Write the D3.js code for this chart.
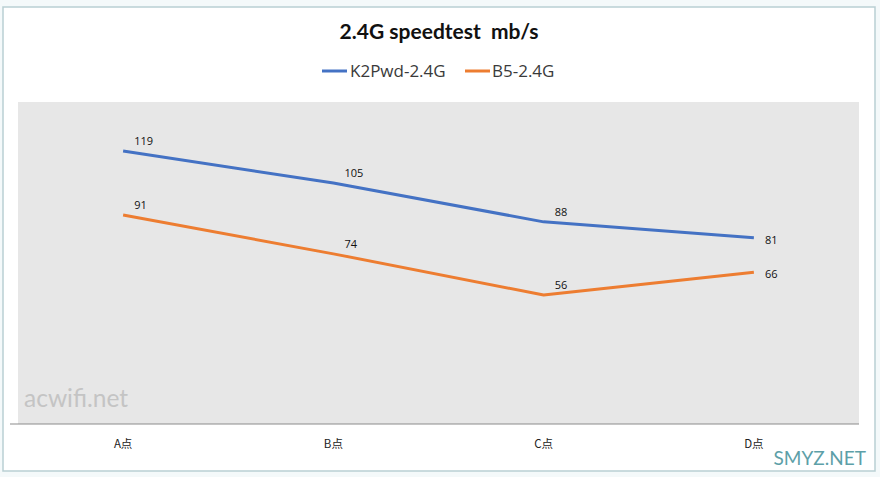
<!DOCTYPE html>
<html><head><meta charset="utf-8">
<script src="https://cdn.jsdelivr.net/npm/d3@7"></script>
<style>html,body{margin:0;padding:0;background:#fff;}svg{display:block;}text{white-space:pre;}</style>
</head><body>
<svg id="chart" width="880" height="477"></svg>
<script>
const categories = ["A点", "B点", "C点", "D点"];
const seriesNames = ["K2Pwd-2.4G", "B5-2.4G"];
const k2pwdValues = [119, 105, 88, 81];
const b5Values = [91, 74, 56, 66];
const seriesColors = ["#4472c4", "#ed7d31"];
const titleText = "2.4G speedtest  mb/s";

const series = [
  {name: seriesNames[0], values: k2pwdValues, color: seriesColors[0]},
  {name: seriesNames[1], values: b5Values, color: seriesColors[1]}
];

const svg = d3.select("#chart");
const W = 880, H = 477;

svg.append("rect").attr("width", W).attr("height", H).attr("fill", "#f4f9fa");
svg.append("rect").attr("x", 3).attr("y", 7).attr("width", 872).attr("height", 464)
  .attr("fill", "#ffffff").attr("stroke", "#b9cfd3").attr("stroke-width", 1.5);

const plot = {left: 18, right: 859, top: 102, bottom: 424};

svg.append("rect").attr("x", plot.left).attr("y", plot.top)
  .attr("width", plot.right - plot.left).attr("height", plot.bottom - plot.top)
  .attr("fill", "#e7e7e7");

const x = d3.scaleBand().domain(categories).range([plot.left, plot.right]);
const y = d3.scaleLinear().domain([0, 140]).range([423, 103]);

svg.append("text").attr("x", 24).attr("y", 407).text("acwifi.net")
  .attr("font-family", "Lato, 'Open Sans', sans-serif").attr("font-size", 24.5)
  .attr("fill", "#c4c4c4");

const xAxis = d3.axisBottom(x).tickSize(0).tickPadding(16);
const gx = svg.append("g").attr("transform", `translate(0,${plot.bottom})`).call(xAxis);
gx.select(".domain").attr("stroke", "#8c8c8c").attr("stroke-width", 1.2)
  .attr("d", `M10,0H${plot.right}`);
gx.selectAll(".tick text").attr("font-family", "'Noto Sans CJK SC', 'Open Sans', sans-serif")
  .attr("font-size", 11.5).attr("fill", "#222");

const line = d3.line().x((d, i) => x(categories[i]) + x.bandwidth() / 2).y(d => y(d));

series.forEach(s => {
  svg.append("path").datum(s.values).attr("d", line)
    .attr("fill", "none").attr("stroke", s.color).attr("stroke-width", 3)
    .attr("stroke-linejoin", "round").attr("stroke-linecap", "butt");
});

series.forEach(s => {
  svg.append("g").selectAll("text").data(s.values).join("text")
    .attr("x", (d, i) => x(categories[i]) + x.bandwidth() / 2 + 11)
    .attr("y", (d, i) => y(d) + (i === s.values.length - 1 ? 6 : -6))
    .text(d => d)
    .attr("font-family", "'Open Sans', 'DejaVu Sans', sans-serif")
    .attr("font-size", 11).attr("fill", "#111");
});

svg.append("text").attr("x", 439).attr("y", 39).attr("text-anchor", "middle")
  .text(titleText).attr("font-family", "Lato, 'Open Sans', sans-serif")
  .attr("font-weight", "bold").attr("font-size", 21).attr("fill", "#111");

const legendItems = [
  {x1: 322, x2: 347, tx: 350},
  {x1: 465, x2: 490, tx: 492}
];
series.forEach((s, i) => {
  const L = legendItems[i];
  svg.append("line").attr("x1", L.x1).attr("x2", L.x2).attr("y1", 71).attr("y2", 71)
    .attr("stroke", s.color).attr("stroke-width", 3);
  svg.append("text").attr("x", L.tx).attr("y", 77).text(s.name)
    .attr("font-family", "'Open Sans', sans-serif").attr("font-size", 17).attr("fill", "#3a3a3a");
});

svg.append("text").attr("x", 866).attr("y", 465).attr("text-anchor", "end").text("SMYZ.NET")
  .attr("font-family", "Lato, 'Open Sans', sans-serif").attr("font-size", 19)
  .attr("fill", "#5d9fa8");
</script>
</body></html>
